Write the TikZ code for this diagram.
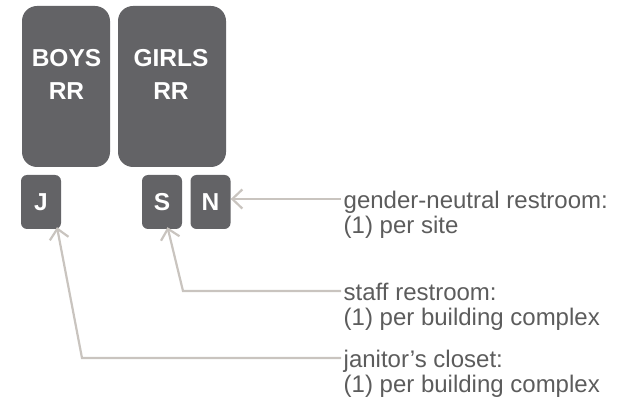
\documentclass[tikz,border=0pt]{standalone}
\usepackage{fontspec}
\setmainfont{Liberation Sans}
\usetikzlibrary{arrows.meta,calc}
\definecolor{boxgray}{HTML}{636366}
\definecolor{txtgray}{HTML}{5C5C5C}
\definecolor{linegray}{HTML}{C9C4BF}
\begin{document}
\begin{tikzpicture}[x=1pt,y=-1pt,
  bigbox/.style={draw=none,fill=boxgray,rounded corners=15pt,minimum width=#1,minimum height=161pt,inner sep=0pt},
  smallbox/.style={fill=boxgray,rounded corners=6pt,minimum width=40pt,minimum height=54pt,inner sep=0pt,text=white,font=\fontsize{24.5}{28}\selectfont\bfseries},
  boxtext/.style={text=white,font=\fontsize{24.5}{33}\selectfont\bfseries,inner sep=0pt,anchor=base},
  note/.style={text=txtgray,font=\fontsize{24}{25}\selectfont,inner sep=0pt,anchor=base west},
  conn/.style={draw=linegray,line width=2.2pt,-{Straight Barb[length=10pt,width=19pt]}}
]
\useasboundingbox (0,0) rectangle (621,403);
\node[bigbox=88pt] (boys) at (66,86.5) {};
\node[bigbox=108pt] (girls) at (172,86.5) {};
\node[boxtext] (boystxt) at (66.5,67) {\begin{tabular}[t]{@{}c@{}}BOYS\\RR\end{tabular}};
\node[boxtext] (girlstxt) at (171,67) {\begin{tabular}[t]{@{}c@{}}GIRLS\\RR\end{tabular}};
\node[smallbox] (J) at (41,202) {J};
\node[smallbox] (S) at (162,202) {S};
\node[smallbox] (N) at (210.5,202) {N};
\node[note] (gn) at (343.5,208.5) {\begin{tabular}[t]{@{}l@{}}gender-neutral restroom:\\(1) per site\end{tabular}};
\node[note] (st) at (343.5,300.5) {\begin{tabular}[t]{@{}l@{}}staff restroom:\\(1) per building complex\end{tabular}};
\node[note] (ja) at (343.5,367.5) {\begin{tabular}[t]{@{}l@{}}janitor’s closet:\\(1) per building complex\end{tabular}};
\coordinate (gnend) at (341,199);
\coordinate (stend) at (341,291);
\coordinate (stcorner) at (183,291);
\coordinate (jaend) at (341,358);
\coordinate (jacorner) at (82,358);
\draw[conn] (gnend) -- (N.east |- gnend);
\draw[conn] (stend) -- (stcorner) -- ($(S.south)+(5.5,-2)$);
\draw[conn] (jaend) -- (jacorner) -- ($(J.south)+(16,-2)$);
\end{tikzpicture}
\end{document}
